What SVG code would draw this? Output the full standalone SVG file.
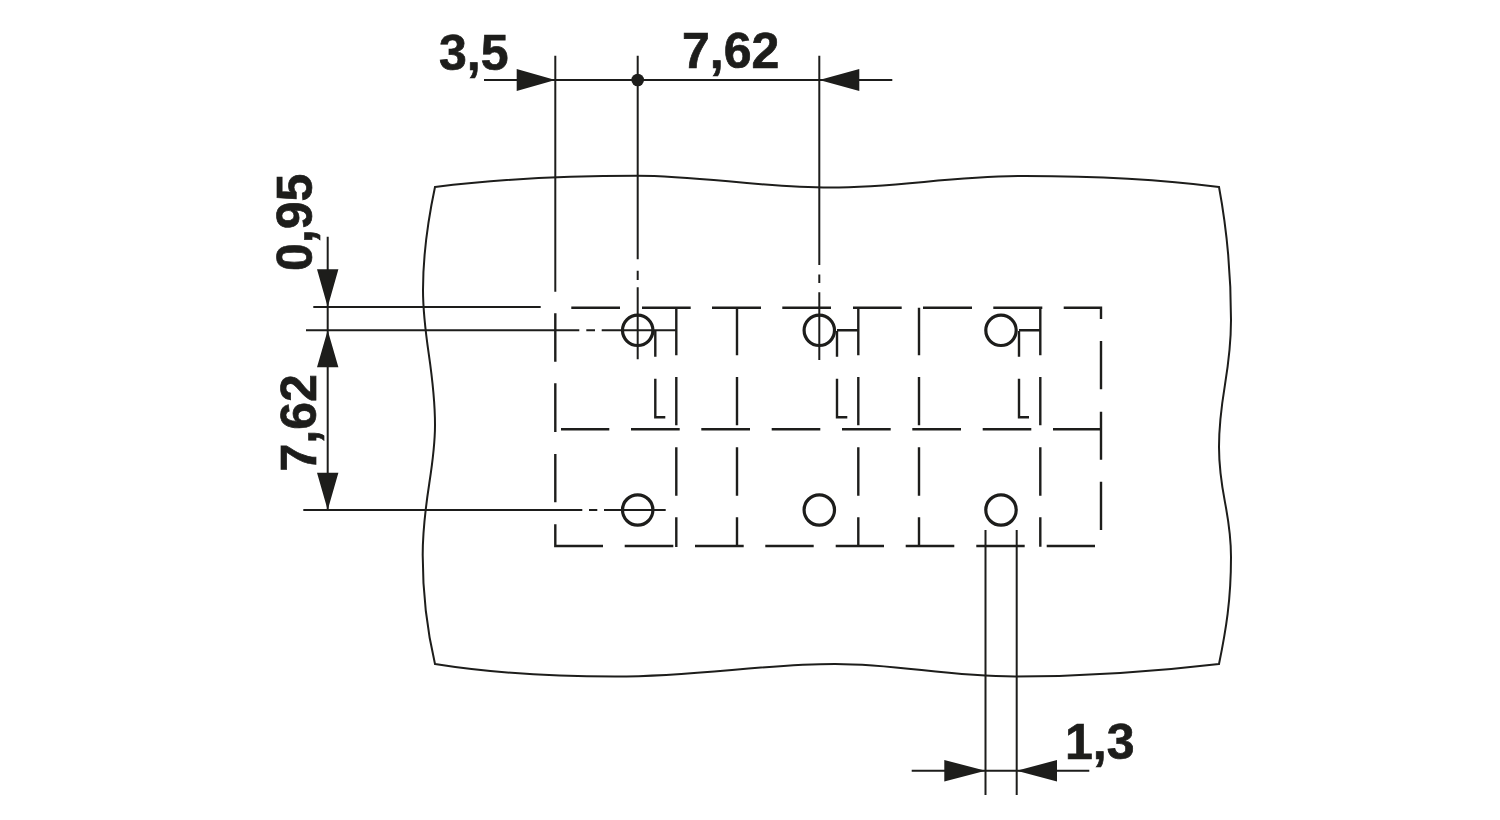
<svg xmlns="http://www.w3.org/2000/svg" width="1500" height="820" viewBox="0 0 1500 820">
<style>
.o{fill:none;stroke:#1d1d1b;stroke-width:2}
.d{fill:none;stroke:#1d1d1b;stroke-width:2.4}
.h{fill:none;stroke:#1d1d1b;stroke-width:3.2}
.a{fill:#1d1d1b}
.t{font-family:"Liberation Sans",Arial,sans-serif;font-weight:700;font-size:50px;fill:#1d1d1b;stroke:#1d1d1b;stroke-width:.7}
</style>
<rect width="1500" height="820" fill="#fff"/>
<g id="outline"><path class="o" d="M435 187C490 180 560 175.7 637 175.7C700 175.7 760 187.5 830 187.5C900 187.5 950 176 1025 176C1100 176 1165 180 1219 187C1227 230 1231 280 1231 320C1231 375 1219 395 1219 447C1219 495 1231 510 1231 557C1231 600 1226 630 1219 664C1160 671 1090 676.5 1015 676.5C945 676.5 900 664 835 664C760 664 700 676.5 615 676.5C540 676.5 485 672 435 664C427 630 422.7 590 422.7 555C422.7 500 435 470 435 425C435 370 423 340 423 290C423 255 428 220 435 187Z"/></g>
<g id="hidden-lines"><path class="d" d="M571.3 307.7H620M642 307.7H690.7M712 307.7H761M782.3 307.7H831M853 307.7H901.7M923 307.7H972M993.3 307.7H1042.3M1063.7 307.7H1101V319M1101 341V389.3M1101 411.7V459.7M1101 481.7V530M561 429.3H609.3M631 429.3H679.7M701.3 429.3H750M771.7 429.3H820.3M842 429.3H890.7M912.3 429.3H961M982.7 429.3H1031.3M1053 429.3H1101M555.3 313.3V361.7M555.3 383.3V432M555.3 454V502.3M555.3 524.3V546H603M624.7 546H673.3M695 546H743.7M765.3 546H813.7M835.7 546H884M905.7 546H954.3M976.3 546H1024.7M1046.7 546H1095M676.3 307.7V355.3M676.3 377V425.3M676.3 447.3V495.7M676.3 517.3V547M737 307.7V355.3M737 377V425.3M737 447.3V495.7M737 517.3V546M858.3 307.7V355.3M858.3 377V425.3M858.3 447.3V495.7M858.3 517.3V546M919 307.7V355.3M919 377V425.3M919 447.3V495.7M919 517.3V546M1040.3 307.7V355.3M1040.3 377V425.3M1040.3 447.3V495.7M1040.3 517.3V546.7M655.3 331V356.7M655.3 378.7V417.3H665.3M837 331V356.7M837 378.7V417.3H847.3M1019 331V356.7M1019 378.7V417.3H1029M837 330.3H858.3M1019 330.3H1040.3"/></g>
<g id="connectors"><path class="o" d="M555.3 55.7V291.7M637.7 55.7V259.3M637.7 270.7V280M637.7 287.3V359.3M819.3 55.7V265M819.3 274.5V283M819.3 292.3V360M484 80H892.3M327.7 236.7V510M313.3 307H540.7M306 330.3H579.3M586.3 330.3H595M601.7 330.3H676.3M303.3 510H582.3M589 510H597.3M604 510H665.7M985.5 530V795M1016.7 530V795M911.7 770.7H1089.3"/>
<path class="a" d="M555.3 80L516.7 69V91ZM819.3 80L859.3 69V91ZM327.7 307L317 269.3H338.4ZM327.7 330.3L317 367.3H338.4ZM327.7 510L317 472.7H338.4ZM985.5 770.7L944.3 760V781.4ZM1016.7 770.7L1057 760V781.4Z"/>
<circle class="a" cx="637.7" cy="80" r="6.3"/></g>
<g id="hole-1"><circle class="h" cx="637.7" cy="330.3" r="15.2"/></g>
<g id="hole-2"><circle class="h" cx="819.3" cy="330.3" r="15.2"/></g>
<g id="hole-3"><circle class="h" cx="1001" cy="330.3" r="15.2"/></g>
<g id="hole-4"><circle class="h" cx="637.7" cy="510" r="15.2"/></g>
<g id="hole-5"><circle class="h" cx="819.3" cy="510" r="15.2"/></g>
<g id="hole-6"><circle class="h" cx="1001" cy="510" r="15.2"/></g>
<g id="labels">
<text class="t" x="439" y="69.5">3,5</text>
<text class="t" x="682" y="68">7,62</text>
<text class="t" x="1065" y="758.5">1,3</text>
<text class="t" transform="translate(311.5 271) rotate(-90)">0,95</text>
<text class="t" transform="translate(316 471.5) rotate(-90)">7,62</text>
</g>
</svg>
